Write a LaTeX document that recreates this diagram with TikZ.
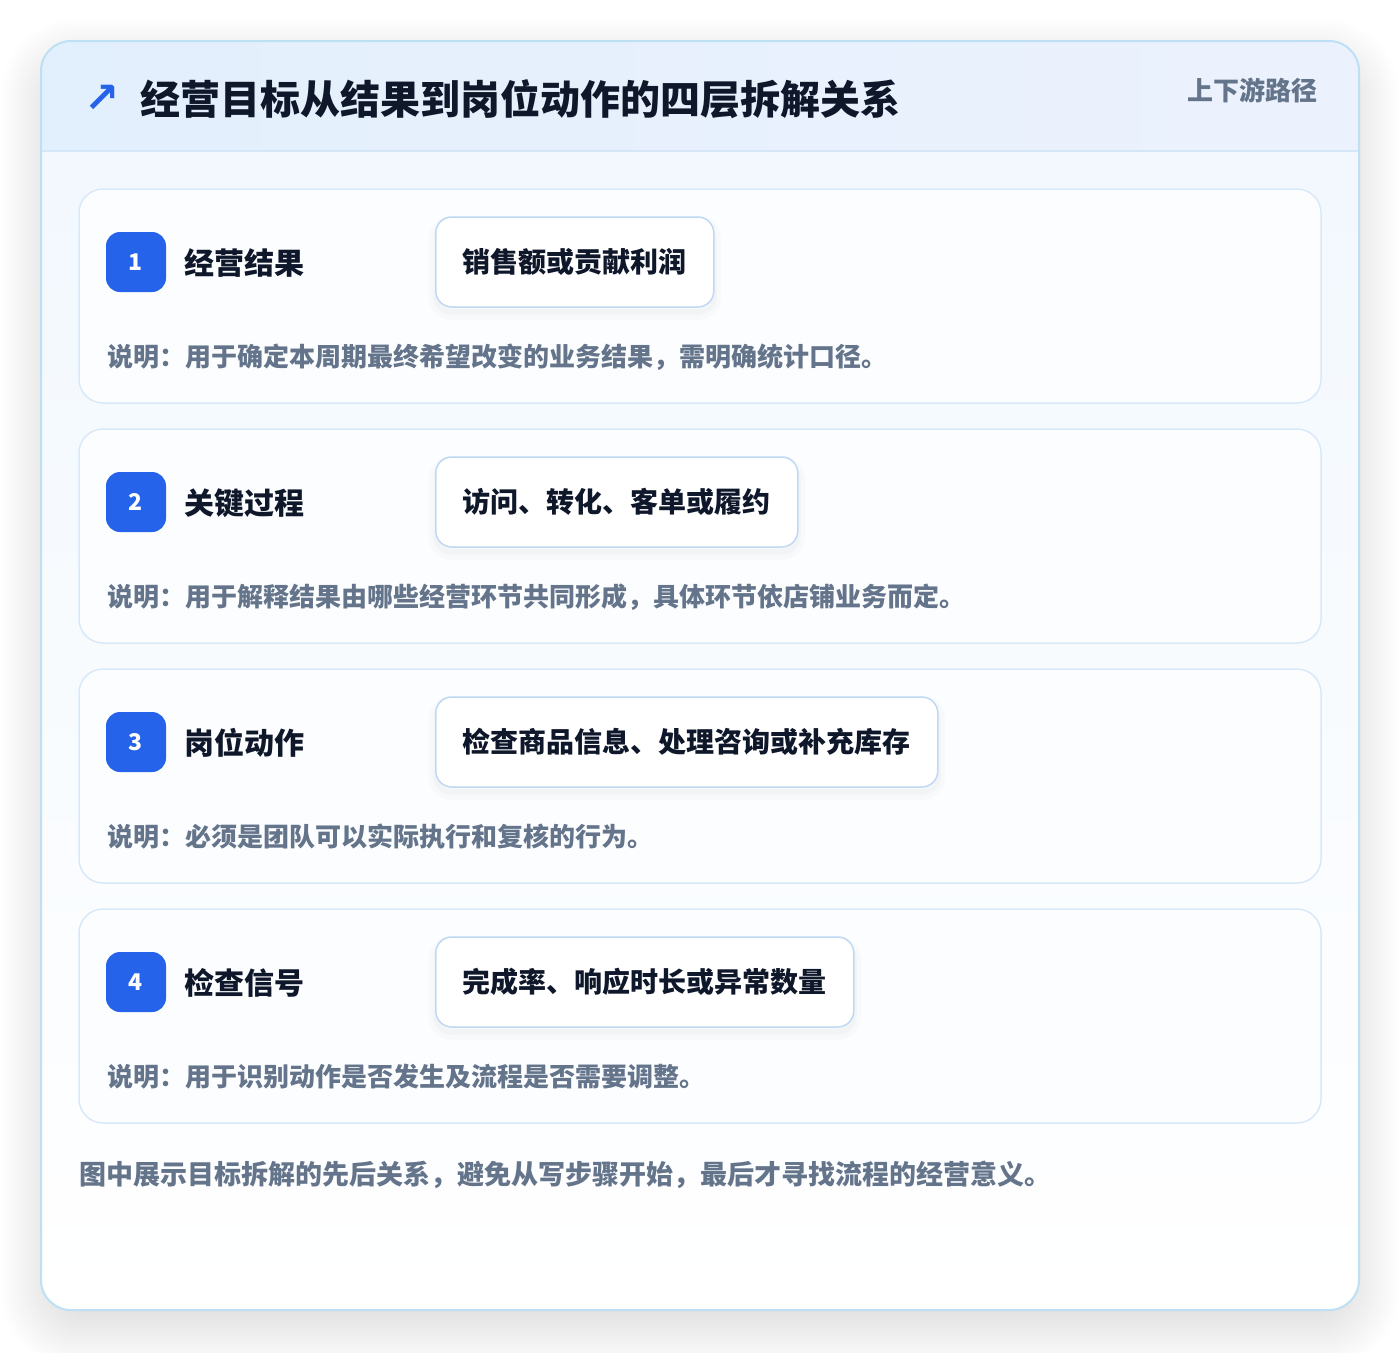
\documentclass[tikz,border=0pt]{standalone}
\usepackage{fontspec}
\setmainfont{Noto Sans CJK SC}
\newfontfamily\symfont{DejaVu Sans}

\definecolor{pagebg}{HTML}{FFFFFF}
\definecolor{frameline}{HTML}{BEE0F5}
\definecolor{headleft}{HTML}{E2EFFC}
\definecolor{headright}{HTML}{ECF2FD}
\definecolor{headline}{HTML}{D5E6F7}
\definecolor{bodytop}{HTML}{F2F8FE}
\definecolor{bodybot}{HTML}{FFFFFF}
\definecolor{cardfill}{HTML}{FCFDFF}
\definecolor{cardline}{HTML}{D9E9F8}
\definecolor{pillline}{HTML}{BFD9F5}
\definecolor{accent}{HTML}{2563EB}
\definecolor{ink}{HTML}{0F172A}
\definecolor{muted}{HTML}{64748B}

\tikzset{
  card/.style={draw=cardline, line width=1.5pt, fill=cardfill, rounded corners=24pt,
    minimum width=1242pt, minimum height=214pt, inner sep=0pt},
  badge/.style={fill=accent, rounded corners=14pt, minimum size=60pt, inner sep=0pt,
    text=white, font=\fontsize{23}{25}\selectfont\bfseries},
  layername/.style={anchor=west, inner sep=0pt, text=ink,
    font=\fontsize{30}{32}\selectfont\bfseries},
  pill/.style={anchor=west, draw=pillline, line width=1.5pt, fill=white, rounded corners=16pt,
    minimum height=90pt, inner xsep=27pt, text=ink, font=\fontsize{28}{30}\selectfont\bfseries,
    preaction={draw=black, draw opacity=0.015, line width=14pt, transform canvas={yshift=-6pt}},
    preaction={draw=black, draw opacity=0.02, line width=6pt, transform canvas={yshift=-5pt}}},
  note/.style={anchor=west, inner sep=0pt, text=muted, font=\fontsize{26}{28}\selectfont\bfseries}
}

\begin{document}
\begin{tikzpicture}[x=1pt, y=-1pt]
  \useasboundingbox (0,0) rectangle (1400,1352);
  \fill[pagebg] (0,0) rectangle (1400,1352);

  % soft shadow under the frame
  \foreach \k in {1,...,30}
    \fill[black, opacity=0.0032, rounded corners=30pt+1.5*\k]
      (41-2*\k+20,41+38-2*\k) rectangle (1359+2*\k-20,1310+2*\k-2);

  % outer frame
  \begin{scope}
    \clip[rounded corners=30pt] (41,41) rectangle (1359,1310);
    \shade[top color=bodytop, bottom color=bodybot] (41,151) rectangle (1359,1310);
    \shade[left color=headleft, right color=headright] (41,41) rectangle (1359,151);
    \draw[headline, line width=1.5pt] (41,151) -- (1359,151);
  \end{scope}
  \draw[frameline, line width=2pt, rounded corners=30pt] (41,41) rectangle (1359,1310);

  % header
  \node[text=accent, inner sep=0pt, font=\symfont\fontsize{42}{44}\selectfont\bfseries] (icon) at (102,99) {↗};
  \node[anchor=west, inner sep=0pt, text=ink, font=\fontsize{40}{42}\selectfont\bfseries] (title) at (140,99)
    {经营目标从结果到岗位动作的四层拆解关系};
  \node[anchor=east, inner sep=0pt, text=muted, font=\fontsize{26}{28}\selectfont\bfseries] (tag) at (1318,90)
    {上下游路径};

  % layers
  \foreach \i/\lab/\pill/\desc in {
      1/经营结果/销售额或贡献利润/说明：用于确定本周期最终希望改变的业务结果，需明确统计口径。,
      2/关键过程/访问、转化、客单或履约/说明：用于解释结果由哪些经营环节共同形成，具体环节依店铺业务而定。,
      3/岗位动作/检查商品信息、处理咨询或补充库存/说明：必须是团队可以实际执行和复核的行为。,
      4/检查信号/完成率、响应时长或异常数量/说明：用于识别动作是否发生及流程是否需要调整。}{
    \pgfmathsetmacro\ty{189+240*(\i-1)}
    \node[card] (card\i) at (700,\ty+107) {};
    \node[badge] (badge\i) at (136,\ty+73) {\i};
    \node[layername] (name\i) at (184,\ty+74) {\lab};
    \node[pill] (pill\i) at (435,\ty+73) {\pill};
    \node[note] (note\i) at (107,\ty+168) {\desc};
  }

  % footer
  \node[note, font=\fontsize{27}{29}\selectfont\bfseries] (footer) at (79,1175)
    {图中展示目标拆解的先后关系，避免从写步骤开始，最后才寻找流程的经营意义。};
\end{tikzpicture}
\end{document}
